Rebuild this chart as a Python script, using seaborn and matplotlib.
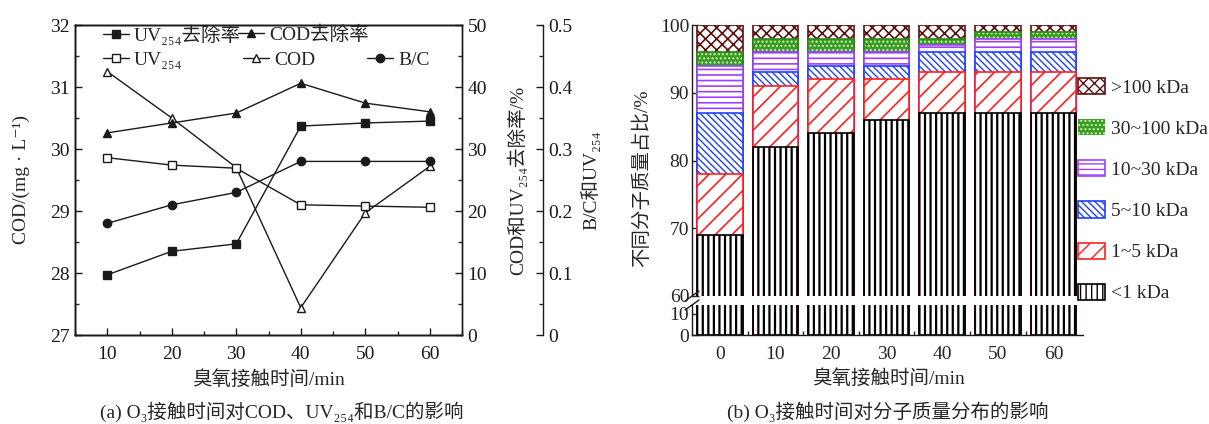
import numpy as np
import matplotlib
matplotlib.use("Agg")
import matplotlib.pyplot as plt
import seaborn as sns
from matplotlib.lines import Line2D
from matplotlib.patches import Patch
from matplotlib.ticker import MultipleLocator, FixedLocator

# ---------------- data ----------------
time_min = [10, 20, 30, 40, 50, 60]
cod = [31.25, 30.50, 29.70, 27.44, 28.97, 29.72]          # mg/L (left axis)
uv_removal = [9.7, 13.5, 14.7, 33.7, 34.2, 34.5]           # % (right axis 1)
cod_removal = [32.6, 34.2, 35.8, 40.6, 37.4, 36.0]         # % (right axis 1)
uv254 = [0.286, 0.274, 0.269, 0.210, 0.208, 0.206]         # right axis 2
bc_ratio = [0.18, 0.21, 0.23, 0.28, 0.28, 0.28]            # right axis 2

bar_times = ["0", "10", "20", "30", "40", "50", "60"]
mw_lt1 = [69, 82, 84, 86, 87, 87, 87]
mw_1_5 = [9, 9, 8, 6, 6, 6, 6]
mw_5_10 = [9, 2, 2, 2, 3, 3, 3]
mw_10_30 = [7, 3, 2, 2, 1, 2, 2]
mw_30_100 = [2, 2, 2, 2, 1, 1, 1]
mw_gt100 = [4, 2, 2, 2, 2, 1, 1]
mw_labels = ["<1 kDa", "1~5 kDa", "5~10 kDa", "10~30 kDa", "30~100 kDa", ">100 kDa"]

# ---------------- style ----------------
sns.set_theme(style="ticks")
FONT = ["Liberation Serif", "DejaVu Serif", "Noto Sans CJK SC"]
plt.rcParams["font.family"] = FONT
plt.rcParams["axes.unicode_minus"] = False
plt.rcParams["hatch.linewidth"] = 1.0
FS = 14
W, H = 1209, 424

fig = plt.figure(figsize=(12.09, 4.24), dpi=100)

def style_ticks(ax, which_axis="both"):
    ax.tick_params(axis=which_axis, which="major", direction="in", length=5, width=1,
                   labelsize=FS, colors="k", pad=4)
    ax.tick_params(axis=which_axis, which="minor", direction="in", length=3, width=1)

# ---------------- left panel ----------------
ax1 = fig.add_axes([75 / W, 1 - 335 / H, 387 / W, 310 / H])
ax2 = ax1.twinx()
ax3 = ax1.twinx()
ax3.spines["right"].set_position(("axes", 1.209))

for ax in (ax1, ax2, ax3):
    for s in ax.spines.values():
        s.set_linewidth(1.0)
        s.set_color("k")

line_kw = dict(color="k", linewidth=1.0, markersize=6, markeredgecolor="k",
               markeredgewidth=1.0, legend=False)
sns.lineplot(x=time_min, y=cod, ax=ax1, marker="^", markerfacecolor="white", **line_kw)
sns.lineplot(x=time_min, y=uv_removal, ax=ax2, marker="s", markerfacecolor="k", **line_kw)
sns.lineplot(x=time_min, y=cod_removal, ax=ax2, marker="^", markerfacecolor="k", **line_kw)
sns.lineplot(x=time_min, y=uv254, ax=ax3, marker="s", markerfacecolor="white", **line_kw)
sns.lineplot(x=time_min, y=bc_ratio, ax=ax3, marker="o", markerfacecolor="k", **line_kw)

ax1.set_xlim(5, 65)
ax1.set_ylim(27, 32)
ax1.set_xticks(time_min)
ax1.set_yticks([27, 28, 29, 30, 31, 32])
ax1.xaxis.set_minor_locator(MultipleLocator(5))
ax1.yaxis.set_minor_locator(MultipleLocator(0.5))
ax2.set_ylim(0, 50)
ax2.set_yticks([0, 10, 20, 30, 40, 50])
ax2.yaxis.set_minor_locator(MultipleLocator(5))
ax3.set_ylim(0, 0.5)
ax3.set_yticks([0, 0.1, 0.2, 0.3, 0.4, 0.5])
ax3.set_yticklabels(["0", "0.1", "0.2", "0.3", "0.4", "0.5"])
ax3.yaxis.set_minor_locator(MultipleLocator(0.05))
for ax in (ax1, ax2, ax3):
    style_ticks(ax)
    ax.set_xlabel("")
ax1.tick_params(axis="x", pad=8)

ax1.set_ylabel("COD/(mg · L⁻¹)", fontsize=FS)
ax1.yaxis.set_label_coords(-0.115, 0.5)
ax2.set_ylabel("COD和UV₂₅₄去除率/%", fontsize=FS)
ax2.yaxis.set_label_coords(1.115, 0.5)
ax3.set_ylabel("B/C和UV₂₅₄", fontsize=FS)
ax3.yaxis.set_label_coords(1.305, 0.5)
ax1.set_xlabel("臭氧接触时间/min", fontsize=FS)
ax1.xaxis.set_label_coords(0.5, -0.115)

def lh(marker, mfc):
    return Line2D([], [], color="k", linewidth=1.0, marker=marker, markersize=6,
                  markerfacecolor=mfc, markeredgecolor="k")

# legend entries placed individually (irregular two-row layout as in the reference)
leg_entries = [
    (lh("s", "k"), "UV₂₅₄去除率", 103, 35),
    (lh("^", "k"), "COD去除率", 238, 35),
    (lh("s", "white"), "UV₂₅₄", 103, 60),
    (lh("^", "white"), "COD", 243, 60),
    (lh("o", "k"), "B/C", 367, 60),
]
for h, lab, px, py in leg_entries:
    lg = fig.legend([h], [lab], loc="center left", bbox_to_anchor=(px / W, 1 - py / H),
                    frameon=False, fontsize=FS, handlelength=1.35, handletextpad=0.25,
                    borderpad=0, borderaxespad=0)

# ---------------- right panel (broken y axis) ----------------
left_r = 692 / W
width_r = 391 / W
axT = fig.add_axes([left_r, 1 - 296 / H, width_r, 271 / H])
axB = fig.add_axes([left_r, 1 - 335 / H, width_r, 30 / H])

segments = [mw_lt1, mw_1_5, mw_5_10, mw_10_30, mw_30_100, mw_gt100]
tops = np.cumsum(np.array(segments, dtype=float), axis=0)

seg_styles = [
    dict(face="white", edge="black", hatch="|||", hlw=1.6),
    dict(face="white", edge="#ff2020", hatch="//", hlw=1.2),
    dict(face="white", edge="#2040ff", hatch="\\\\\\\\\\", hlw=1.0),
    dict(face="white", edge="#a040ff", hatch="---", hlw=1.2),
    dict(face="#3a9a22", edge="#c8f0b8", hatch="....", hlw=1.0, outline="#2d8a1a"),
    dict(face="white", edge="#5a1010", hatch="xxx", hlw=1.2),
]

BAR_W = 0.82
for ax in (axT, axB):
    for i in range(len(segments) - 1, -1, -1):
        st = seg_styles[i]
        n_before = len(ax.patches)
        if "outline" in st:
            sns.barplot(x=bar_times, y=tops[i], ax=ax, color=st["face"], saturation=1,
                        edgecolor=st["edge"], hatch=st["hatch"], linewidth=0, width=BAR_W)
            for p in ax.patches[n_before:]:
                p.set_facecolor(st["face"])
                if hasattr(p, "set_hatch_linewidth"):
                    p.set_hatch_linewidth(st["hlw"])
            sns.barplot(x=bar_times, y=tops[i], ax=ax, fill=False, saturation=1,
                        edgecolor=st["outline"], linewidth=1.2, width=BAR_W)
        else:
            sns.barplot(x=bar_times, y=tops[i], ax=ax, color=st["face"], saturation=1,
                        edgecolor=st["edge"], hatch=st["hatch"], linewidth=1.2, width=BAR_W)
            for p in ax.patches[n_before:]:
                p.set_facecolor(st["face"])
                if hasattr(p, "set_hatch_linewidth"):
                    p.set_hatch_linewidth(st["hlw"])
    ax.set_xlim(-0.5, 6.53)
    ax.set_xlabel("")
    ax.set_ylabel("")
    for s in ax.spines.values():
        s.set_linewidth(1.0)
        s.set_color("k")

axT.set_ylim(60, 100)
axT.set_yticks([60, 70, 80, 90, 100])
axT.spines["top"].set_visible(False)
axT.spines["right"].set_visible(False)
axT.spines["bottom"].set_visible(False)
axT.tick_params(axis="x", which="both", bottom=False, labelbottom=False)
axT.tick_params(axis="y", direction="in", length=5, width=1, labelsize=FS, pad=2)

axB.set_ylim(0, 14)
axB.set_yticks([0, 10])
axB.spines["top"].set_visible(False)
axB.spines["right"].set_visible(False)
axB.xaxis.set_minor_locator(FixedLocator(np.arange(0.5, 6.5, 1.0)))
axB.tick_params(axis="y", direction="in", length=5, width=1, labelsize=FS, pad=2)
axB.tick_params(axis="x", which="major", direction="in", length=5, width=1, labelsize=FS, pad=8)
axB.tick_params(axis="x", which="minor", direction="in", length=3, width=1)

# break marks
dx, dyT, dyB = 7 / 391, 5 / 271, 5 / 30
axT.plot([-dx, dx], [-dyT, dyT], transform=axT.transAxes, color="k", lw=1, clip_on=False)
axB.plot([-dx, dx], [1 - dyB, 1 + dyB], transform=axB.transAxes, color="k", lw=1, clip_on=False)

fig.text(642 / W, 1 - 178 / H, "不同分子质量占比/%", rotation=90, ha="center",
         va="center", fontsize=FS)
fig.text(888 / W, 1 - 379 / H, "臭氧接触时间/min", ha="center", va="center", fontsize=FS)

# legend for bars (top to bottom: >100 ... <1)
leg_handles = []
for i in range(len(segments) - 1, -1, -1):
    st = seg_styles[i]
    if "outline" in st:
        h = Patch(facecolor=st["face"], edgecolor=st["edge"], hatch=st["hatch"], linewidth=0)
    else:
        h = Patch(facecolor=st["face"], edgecolor=st["edge"], hatch=st["hatch"], linewidth=1.2)
    leg_handles.append(h)
leg_labels = mw_labels[::-1]
fig.legend(leg_handles, leg_labels, loc="upper left",
           bbox_to_anchor=(1078 / W, 1 - 78 / H), frameon=False, fontsize=FS,
           handlelength=1.4, handleheight=0.9, handletextpad=0.3, labelspacing=1.15,
           borderpad=0, borderaxespad=0)

# captions
fig.text(282 / W, 1 - 412 / H, "(a) O₃接触时间对COD、UV₂₅₄和B/C的影响",
         ha="center", va="center", fontsize=FS)
fig.text(888 / W, 1 - 412 / H, "(b) O₃接触时间对分子质量分布的影响",
         ha="center", va="center", fontsize=FS)

fig.savefig("out.png", dpi=100)
